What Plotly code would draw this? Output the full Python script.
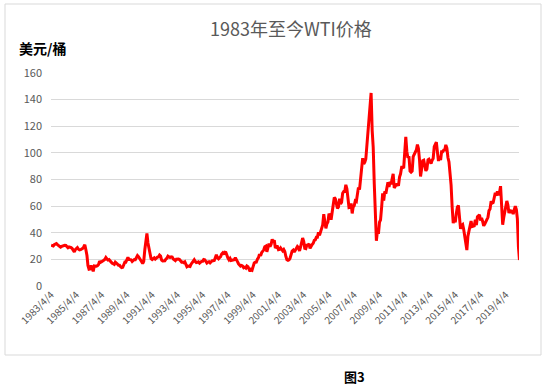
import plotly.graph_objects as go
import pandas as pd

title = "1983年至今WTI价格"
y_label = "美元/桶"
caption = "图3"

# Monthly WTI price (USD/bbl), Apr 1983 .. Apr 2020
p1983 = [30.6, 30.0, 31.0, 31.7, 31.9, 31.1, 30.4, 29.8, 29.2]
p1984 = [29.7, 30.1, 30.8, 30.6, 30.5, 29.8, 28.7, 29.3, 29.3, 28.8, 28.1, 26.9]
p1985 = [25.6, 27.3, 28.2, 28.8, 27.6, 27.1, 27.3, 27.8, 28.3, 29.5, 31.0, 27.2]
p1986 = [22.9, 15.4, 12.6, 12.8, 15.4, 13.4, 11.0, 15.1, 14.9, 14.9, 15.2, 16.1]
p1987 = [18.7, 17.8, 18.3, 18.6, 19.4, 20.0, 21.4, 20.3, 19.5, 19.8, 18.9, 17.2]
p1988 = [17.1, 16.7, 16.2, 17.9, 17.4, 16.5, 15.5, 15.5, 14.5, 13.8, 14.0, 16.3]
p1989 = [18.0, 17.9, 19.4, 21.5, 20.0, 20.0, 19.6, 18.4, 19.4, 19.9, 19.8, 21.1]
p1990 = [22.9, 22.1, 20.4, 18.6, 18.2, 16.9, 18.6, 27.2, 33.7, 39.5, 32.3, 27.3]
p1991 = [25.2, 20.5, 19.9, 20.8, 21.2, 20.2, 21.4, 21.7, 21.9, 23.2, 22.5, 19.5]
p1992 = [18.8, 19.0, 18.9, 20.2, 20.9, 22.4, 21.8, 21.4, 21.9, 21.7, 20.3, 19.4]
p1993 = [19.1, 20.1, 20.3, 20.3, 19.9, 19.1, 17.9, 18.0, 17.5, 18.1, 16.7, 14.5]
p1994 = [15.0, 14.8, 14.7, 16.4, 17.9, 19.1, 19.7, 18.4, 17.5, 17.7, 18.1, 17.2]
p1995 = [18.0, 18.5, 18.6, 19.9, 19.7, 18.4, 17.3, 18.0, 18.2, 17.4, 18.0, 19.0]
p1996 = [18.9, 19.1, 21.3, 23.5, 21.2, 20.4, 21.3, 22.0, 24.0, 24.9, 23.7, 25.4]
p1997 = [25.2, 22.2, 21.0, 19.7, 20.8, 19.2, 19.6, 19.9, 19.8, 21.3, 20.2, 18.3]
p1998 = [16.7, 16.1, 15.0, 15.4, 14.9, 13.7, 14.1, 13.4, 15.0, 14.4, 12.9, 11.0]
p1999 = [12.5, 12.0, 14.7, 17.3, 17.8, 17.9, 20.1, 21.3, 23.9, 22.6, 25.0, 26.1]
p2000 = [27.2, 29.4, 29.9, 25.7, 28.8, 31.8, 29.7, 31.3, 35.0, 33.1, 34.4, 28.5]
p2001 = [29.6, 29.6, 27.2, 27.4, 28.6, 27.6, 26.4, 27.4, 25.9, 22.2, 19.7, 19.3]
p2002 = [19.7, 20.7, 24.4, 26.3, 27.0, 25.5, 26.9, 28.4, 29.7, 28.9, 26.3, 29.4]
p2003 = [32.9, 36.0, 33.6, 28.3, 28.1, 30.7, 30.8, 31.6, 28.3, 30.3, 31.1, 32.1]
p2004 = [34.3, 34.7, 36.7, 36.7, 40.3, 38.0, 40.7, 44.9, 45.9, 54.0, 48.5, 43.3]
p2005 = [46.8, 48.0, 54.3, 53.0, 49.8, 56.3, 58.7, 66.5, 65.6, 62.4, 58.3, 59.4]
p2006 = [65.5, 61.6, 62.9, 69.7, 70.9, 70.9, 76.0, 73.0, 63.8, 58.9, 59.1, 62.0]
p2007 = [54.5, 59.3, 60.4, 64.0, 63.5, 67.5, 74.1, 72.4, 79.9, 85.8, 96.0, 91.7]
p2008 = [93.0, 95.4, 105.5, 112.6, 125.4, 133.9, 145.0, 116.7, 104.1, 76.6, 57.3, 34.0]
p2009 = [41.7, 39.1, 47.9, 49.7, 59.0, 69.6, 64.1, 71.0, 69.4, 75.7, 78.0, 74.5]
p2010 = [78.3, 76.4, 81.2, 84.3, 73.7, 75.3, 76.3, 76.6, 75.2, 81.9, 84.3, 89.2]
p2011 = [89.2, 88.6, 102.9, 112.0, 100.9, 96.3, 97.3, 86.3, 85.5, 86.3, 97.2, 98.6]
p2012 = [100.3, 102.2, 106.2, 103.3, 94.7, 82.3, 87.9, 94.1, 94.5, 89.5, 86.5, 87.9]
p2013 = [94.8, 95.3, 92.9, 92.0, 94.5, 95.8, 104.6, 106.6, 108.0, 100.5, 93.9, 97.6]
p2014 = [94.6, 100.8, 100.8, 102.1, 102.2, 106.0, 103.6, 96.5, 93.2, 84.4, 75.8, 59.3]
p2015 = [47.2, 50.6, 47.8, 54.5, 59.3, 60.5, 50.9, 42.9, 45.5, 46.2, 42.4, 37.2]
p2016 = [31.7, 27.0, 37.5, 40.8, 46.7, 48.8, 44.7, 44.7, 45.2, 49.8, 45.7, 52.0]
p2017 = [52.5, 53.5, 49.3, 51.1, 48.5, 45.2, 46.6, 48.0, 49.8, 51.6, 56.6, 57.9]
p2018 = [63.7, 62.2, 62.7, 66.3, 70.0, 67.9, 71.0, 68.1, 70.2, 75.0, 57.0, 46.0]
p2019 = [51.4, 55.0, 58.2, 63.9, 60.8, 54.7, 57.4, 54.8, 57.0, 54.0, 57.1, 59.9]
p2020 = [57.5, 50.5, 29.2, 19.5]

prices = (p1983 + p1984 + p1985 + p1986 + p1987 + p1988 + p1989 + p1990 + p1991
          + p1992 + p1993 + p1994 + p1995 + p1996 + p1997 + p1998 + p1999 + p2000
          + p2001 + p2002 + p2003 + p2004 + p2005 + p2006 + p2007 + p2008 + p2009
          + p2010 + p2011 + p2012 + p2013 + p2014 + p2015 + p2016 + p2017 + p2018
          + p2019 + p2020)

dates = pd.date_range("1983-04-04", periods=len(prices), freq="MS")
dates = [pd.Timestamp("1983-04-04")] + list(dates[1:] + pd.Timedelta(days=3))

tick_years = list(range(1983, 2020, 2))
tick_vals = [f"{y}-04-04" for y in tick_years]
tick_text = [f"{y}/4/4" for y in tick_years]
y_ticks = [0, 20, 40, 60, 80, 100, 120, 140, 160]

fig = go.Figure()
fig.add_trace(go.Scatter(x=dates, y=prices, mode="lines",
                         line=dict(color="#FF0000", width=3), showlegend=False))

W, H = 550, 386
L, R, T, B = 51, 31, 73, 100
pw, ph = W - L - R, H - T - B

def px(x):
    return (x - L) / pw

def py(y):
    return (H - B - y) / ph

fig.update_layout(
    width=W, height=H,
    margin=dict(l=L, r=R, t=T, b=B),
    paper_bgcolor="white", plot_bgcolor="white",
    font=dict(family="Noto Sans CJK SC, Noto Sans, sans-serif", color="#595959"),
    xaxis=dict(type="date", range=["1983-04-01", "2020-04-20"],
               tickvals=tick_vals, ticktext=tick_text, tickangle=-45,
               tickfont=dict(size=10, color="#595959"),
               showgrid=False, showline=False, zeroline=False, ticks=""),
    yaxis=dict(range=[0, 160], tickvals=y_ticks, showgrid=True,
               gridcolor="#D9D9D9", gridwidth=1, zeroline=False, showline=False,
               tickfont=dict(size=11, color="#595959"), ticks="", ticklabelstandoff=8),
    shapes=[dict(type="rect", xref="paper", yref="paper",
                 x0=px(5), x1=px(541), y0=py(355), y1=py(4),
                 line=dict(color="#D9D9D9", width=1), fillcolor="rgba(0,0,0,0)",
                 layer="below")],
    annotations=[
        dict(text=title, xref="paper", yref="paper", x=px(291), y=py(28),
             xanchor="center", yanchor="middle", showarrow=False,
             font=dict(size=18, color="#595959")),
        dict(text="<b>" + y_label + "</b>", xref="paper", yref="paper", x=px(17), y=py(48),
             xanchor="left", yanchor="middle", showarrow=False,
             font=dict(size=14, color="#000000")),
        dict(text="<b>" + caption + "</b>", xref="paper", yref="paper", x=px(354), y=py(376),
             xanchor="center", yanchor="middle", showarrow=False,
             font=dict(size=13, color="#000000")),
    ],
)

fig.write_html("out.html", config={"displayModeBar": False},
               post_script="document.body.style.margin='0px';document.body.style.padding='0px';")
